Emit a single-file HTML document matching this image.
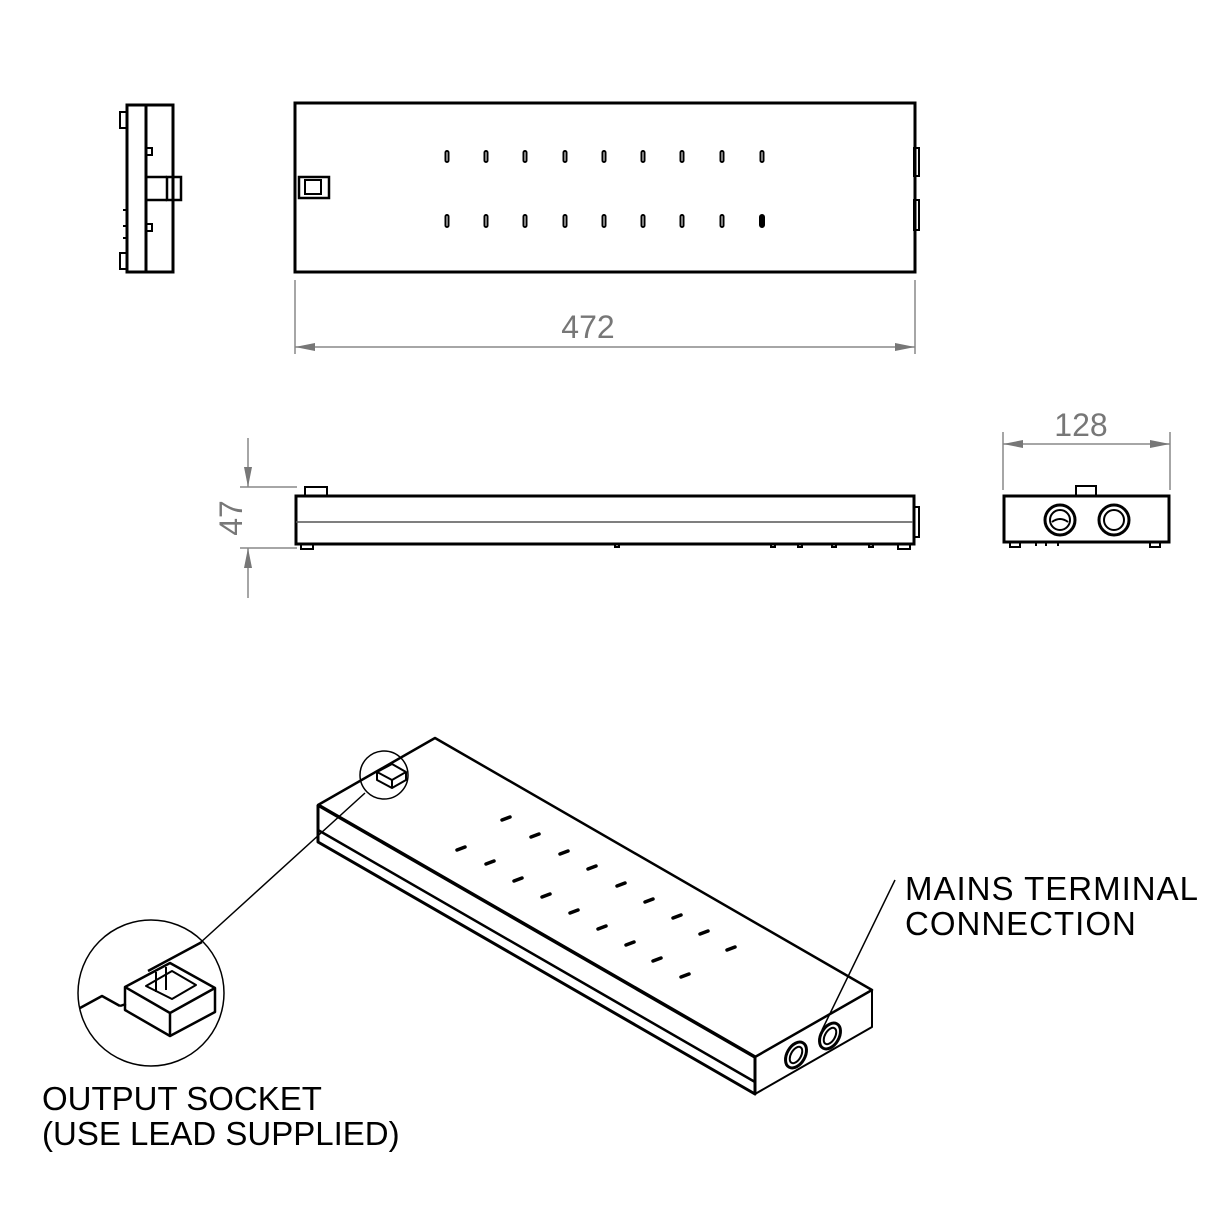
<!DOCTYPE html>
<html><head><meta charset="utf-8"><style>
html,body{margin:0;padding:0;background:#fff}
svg{display:block}
text{font-family:"Liberation Sans",sans-serif}
</style></head><body>
<svg width="1220" height="1220" viewBox="0 0 1220 1220" xmlns="http://www.w3.org/2000/svg">
<defs>
<marker id="ar" viewBox="0 0 20 8" refX="20" refY="4" markerWidth="20" markerHeight="8" markerUnits="userSpaceOnUse" orient="auto"><path d="M0,0 L20,4 L0,8 z" fill="#777"/></marker>
</defs>
<g fill="none" stroke="#000" stroke-width="3">
<rect x="127" y="105" width="19" height="167"/>
<rect x="146" y="105" width="27" height="167"/>
<rect x="167" y="177" width="14" height="23" stroke-width="2.5"/>
<path d="M146,177 H167 M146,200 H167" stroke-width="2.5"/>
<rect x="120" y="112" width="7" height="16" stroke-width="2"/>
<rect x="120" y="253" width="7" height="16" stroke-width="2"/>
<path d="M147,148 h5 v7 h-5 M147,224 h5 v7 h-5" stroke-width="2"/>
<path d="M123,210 h4 M123,226 h4 M123,238 h4" stroke-width="2"/>
<rect x="295" y="103" width="620" height="169"/>
<rect x="299" y="177" width="30" height="21" stroke-width="2.5"/>
<rect x="305" y="180" width="16" height="14" stroke-width="2"/>
<rect x="914" y="148" width="5" height="28" stroke-width="2"/>
<rect x="914" y="200" width="5" height="30" stroke-width="2"/>
</g>
<g fill="none" stroke="#000" stroke-width="2">
<rect x="445.5" y="151" width="3" height="11" rx="1.5"/><rect x="484.5" y="151" width="3" height="11" rx="1.5"/><rect x="523.5" y="151" width="3" height="11" rx="1.5"/><rect x="563.5" y="151" width="3" height="11" rx="1.5"/><rect x="602.5" y="151" width="3" height="11" rx="1.5"/><rect x="641.5" y="151" width="3" height="11" rx="1.5"/><rect x="680.5" y="151" width="3" height="11" rx="1.5"/><rect x="720.5" y="151" width="3" height="11" rx="1.5"/><rect x="760.5" y="151" width="3" height="11" rx="1.5"/>
<rect x="445.5" y="215" width="3" height="12" rx="1.5"/><rect x="484.5" y="215" width="3" height="12" rx="1.5"/><rect x="523.5" y="215" width="3" height="12" rx="1.5"/><rect x="563.5" y="215" width="3" height="12" rx="1.5"/><rect x="602.5" y="215" width="3" height="12" rx="1.5"/><rect x="641.5" y="215" width="3" height="12" rx="1.5"/><rect x="680.5" y="215" width="3" height="12" rx="1.5"/><rect x="720.5" y="215" width="3" height="12" rx="1.5"/><rect x="760" y="215" width="4" height="12" rx="2" fill="#000"/>
</g>
<g stroke="#888" stroke-width="1.5" fill="none">
<path d="M295,280 V354 M915,280 V354"/>
<line x1="605" y1="347" x2="295" y2="347" marker-end="url(#ar)"/>
<line x1="605" y1="347" x2="915" y2="347" marker-end="url(#ar)"/>
<path d="M240,487 H297 M240,548 H297"/>
<line x1="248" y1="438" x2="248" y2="487" marker-end="url(#ar)"/>
<line x1="248" y1="598" x2="248" y2="548" marker-end="url(#ar)"/>
<path d="M1003,432 V490 M1170,432 V490"/>
<line x1="1086" y1="444" x2="1003" y2="444" marker-end="url(#ar)"/>
<line x1="1086" y1="444" x2="1170" y2="444" marker-end="url(#ar)"/>
</g>
<text x="588" y="338" font-size="32" fill="#777" text-anchor="middle">472</text>
<text x="1081" y="436" font-size="32" fill="#777" text-anchor="middle">128</text>
<text transform="translate(242,518) rotate(-90)" font-size="32" fill="#777" text-anchor="middle">47</text>
<g fill="none" stroke="#000" stroke-width="3">
<rect x="296" y="496" width="618" height="48"/>
<path d="M296,522 H914" stroke="#555" stroke-width="1.5"/>
<rect x="305" y="487" width="22" height="9" stroke-width="2"/>
<rect x="914" y="507" width="5" height="30" stroke-width="2"/>
<path d="M301,544 v5 h12 v-5 M898,544 v5 h12 v-5 M615,544 v3 h4 v-3 M771,544 v3 h4 v-3 M798,544 v3 h4 v-3 M832,544 v3 h4 v-3 M869,544 v3 h4 v-3" stroke-width="2"/>
<rect x="1004" y="496" width="165" height="46"/>
<rect x="1076" y="486" width="20" height="10" stroke-width="2"/>
<circle cx="1060" cy="520" r="15"/><circle cx="1060" cy="520" r="10" stroke-width="2"/>
<circle cx="1114" cy="520" r="15"/><circle cx="1114" cy="520" r="10" stroke-width="2"/>
<path d="M1052,522 q8,-6 16,0" stroke-width="2"/>
<path d="M1010,542 v5 h10 v-5 M1150,542 v5 h10 v-5 M1036,542 v4 M1046,542 v4 M1058,542 v4" stroke-width="2"/>
</g>
<g fill="none" stroke="#000" stroke-linejoin="round">
<path d="M318,805 L435,738 L872,990 L755,1057 Z" stroke-width="2.5"/>
<path d="M318,805 V842 L755,1094 V1057" stroke-width="3"/>
<path d="M318,830 L755,1082" stroke-width="2.5"/>
<path d="M755,1094 L872,1027 V990" stroke-width="2"/>
<path d="M318,805 L755,1057" stroke-width="3.5"/>
<ellipse cx="796" cy="1055" rx="9" ry="14" transform="rotate(30 796 1055)" stroke-width="3"/>
<ellipse cx="796" cy="1055" rx="5" ry="9" transform="rotate(30 796 1055)" stroke-width="2"/>
<ellipse cx="830" cy="1036" rx="9" ry="14" transform="rotate(30 830 1036)" stroke-width="3"/>
<ellipse cx="830" cy="1036" rx="5" ry="9" transform="rotate(30 830 1036)" stroke-width="2"/>
<path d="M377,772 L392,764 L406,772 L406,780 L392,788 L377,780 Z" stroke-width="2"/>
<path d="M377,772 L392,780 L406,772 M392,780 V788" stroke-width="2"/>
<circle cx="384" cy="775" r="24" stroke-width="1.5"/>
<path d="M365,793 L200,943" stroke-width="1.5"/>
<circle cx="151" cy="993" r="73" stroke-width="1.5"/>
<path d="M80,1008 L102,996 L120,1006" stroke-width="2.5"/>
<path d="M120,1006 L126,1004 M148,971 L202,942" stroke-width="2.5"/>
<path d="M125,987 L170,963 L215,988 L215,1012 L170,1036 L125,1010 Z" stroke-width="2.5"/>
<path d="M125,987 L170,1013 L215,988 M170,1013 V1036" stroke-width="2.5"/>
<path d="M146,986 L172,971 L196,985 L172,999 Z M156,972 V992 M166,967 V990" stroke-width="2"/>
<path d="M895,880 L822,1030" stroke-width="1.5"/>
</g>
<g stroke="#000" stroke-width="3.5" stroke-linecap="round">
<path d="M502,820 l8,-3 M531,837 l8,-3 M560,854 l8,-3 M588,869 l8,-3 M617,886 l8,-3 M645,902 l8,-3 M673,918 l8,-3 M700,934 l8,-3 M727,950 l8,-3"/>
<path d="M457,850 l8,-3 M486,864 l8,-3 M514,881 l8,-3 M542,897 l8,-3 M570,913 l8,-3 M598,929 l8,-3 M626,945 l8,-3 M653,961 l8,-3 M681,977 l8,-3"/>
</g>
<text x="905" y="900" font-size="33" fill="#000" letter-spacing="1">MAINS TERMINAL</text>
<text x="905" y="935" font-size="33" fill="#000" letter-spacing="1">CONNECTION</text>
<text x="42" y="1110" font-size="33" fill="#000">OUTPUT SOCKET</text>
<text x="42" y="1145" font-size="33" fill="#000">(USE LEAD SUPPLIED)</text>
</svg>
</body></html>
